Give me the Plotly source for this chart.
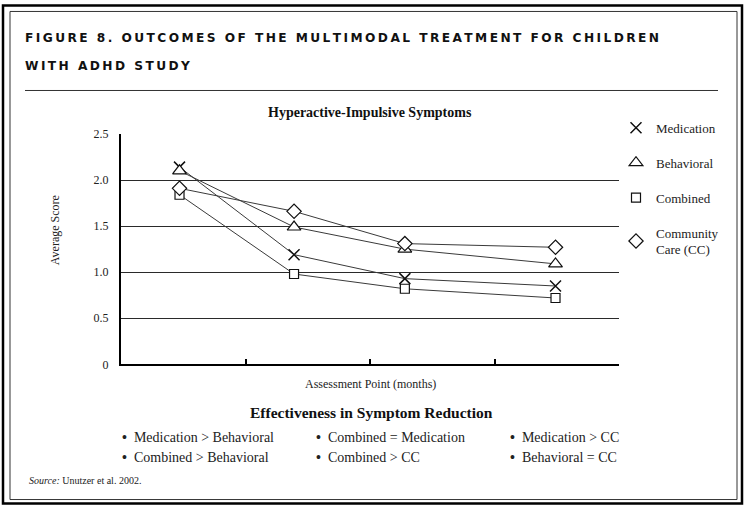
import plotly.graph_objects as go

# ---- data ----
assessment_x = [0.47, 1.39, 2.28, 3.49]   # positions of assessment points along the x axis (0-4)
medication = [2.14, 1.19, 0.93, 0.85]
behavioral = [2.10, 1.49, 1.25, 1.09]
combined = [1.84, 0.98, 0.82, 0.72]
community_care = [1.91, 1.66, 1.31, 1.27]
series_names = ["Medication", "Behavioral", "Combined", "Community<br>Care (CC)"]
y_tick_vals = [0, 0.5, 1.0, 1.5, 2.0, 2.5]
y_tick_text = ["0", "0.5", "1.0", "1.5", "2.0", "2.5"]
x_tick_vals = [1, 2, 3]
title_lines = ["FIGURE 8. OUTCOMES OF THE MULTIMODAL TREATMENT FOR CHILDREN", "WITH ADHD STUDY"]
chart_title = "Hyperactive-Impulsive Symptoms"
x_title = "Assessment Point (months)"
y_title = "Average Score"
effect_title = "Effectiveness in Symptom Reduction"
effect_rows = [
    ["Medication > Behavioral", "Combined = Medication", "Medication > CC"],
    ["Combined > Behavioral", "Combined > CC", "Behavioral = CC"],
]
source_text = "<i>Source:</i> Unutzer et al. 2002."

W, H = 750, 512
SERIF = "Liberation Serif"
VK = 1.022  # vertical spread correction

def px(x):
    return x / W

def py(y):
    yy = H / 2 + (y - H / 2) * VK
    return 1 - yy / H

def spaced(s):
    thin = "\u2009"
    return (thin + "\u00a0" + thin).join(thin.join(list(w)) for w in s.split(" "))

fig = go.Figure()

series = [medication, behavioral, combined, community_care]
symbols = ["x-thin", "triangle-up", "square", "diamond"]
sizes = [11, 12, 9, 11]
for name, vals, sym, sz in zip(series_names, series, symbols, sizes):
    mk = dict(symbol=sym, size=sz, color="white",
              line=dict(color="#111111", width=1.2 if sym != "x-thin" else 1.5))
    fig.add_trace(go.Scatter(
        x=assessment_x, y=vals, mode="lines+markers", showlegend=False,
        line=dict(color="#3a3a3a", width=1), marker=mk,
    ))
    fig.add_trace(go.Scatter(
        x=[None], y=[None], mode="markers", name=name, legendgroup=name, marker=mk,
    ))

fig.update_layout(
    width=W, height=H,
    margin=dict(l=0, r=0, t=0, b=0),
    paper_bgcolor="white", plot_bgcolor="white",
    xaxis=dict(domain=[px(121), px(619)], range=[0, 4], showgrid=False, zeroline=False,
               showline=True, linecolor="black", linewidth=2,
               tickvals=x_tick_vals, ticktext=["", "", ""], ticks="inside",
               ticklen=5, tickwidth=2, tickcolor="black"),
    yaxis=dict(domain=[py(365), py(133)], range=[0, 2.502], showgrid=True,
               gridcolor="#2a2a2a", gridwidth=1, zeroline=False,
               showline=True, linecolor="black", linewidth=2,
               tickvals=y_tick_vals, ticktext=y_tick_text, ticks="",
               ticklabelstandoff=8,
               tickfont=dict(family=SERIF, size=12, color="#222")),
    legend=dict(x=px(616), y=py(112), xanchor="left", yanchor="top",
                font=dict(family=SERIF, size=13, color="#222"),
                traceorder="grouped", tracegroupgap=15, itemwidth=30,
                bgcolor="rgba(0,0,0,0)"),
    showlegend=True,
)

shapes = [
    dict(type="rect", xref="paper", yref="paper", x0=px(3), x1=px(742), y0=py(505), y1=py(4),
         line=dict(color="black", width=2.5)),
    dict(type="rect", xref="paper", yref="paper", x0=px(10), x1=px(737), y0=py(501), y1=py(10),
         line=dict(color="#333", width=1)),
    dict(type="line", xref="paper", yref="paper", x0=px(25), x1=px(718), y0=py(89.5), y1=py(89.5),
         line=dict(color="#333", width=1)),
]
fig.update_layout(shapes=shapes)

ann = []
for i, line in enumerate(title_lines):
    ann.append(dict(text="<b>" + spaced(line) + "</b>", x=px(23), y=py(37 + 28 * i),
                    xanchor="left", yanchor="middle",
                    font=dict(family="DejaVu Sans", size=12.2, color="#111")))
ann.append(dict(text="<b>" + chart_title + "</b>", x=px(370), y=py(112), xanchor="center", yanchor="middle",
                font=dict(family=SERIF, size=14, color="#111")))
ann.append(dict(text=y_title, x=px(55), y=py(230), xanchor="center", yanchor="middle", textangle=-90,
                font=dict(family=SERIF, size=12, color="#222")))
ann.append(dict(text=x_title, x=px(370), y=py(385), xanchor="center", yanchor="middle",
                font=dict(family=SERIF, size=12, color="#222")))
ann.append(dict(text="<b>" + effect_title + "</b>", x=px(371), y=py(413), xanchor="center", yanchor="middle",
                font=dict(family=SERIF, size=15.5, color="#111")))
col_x = [120, 314, 508]
for r, row in enumerate(effect_rows):
    for c, item in enumerate(row):
        ann.append(dict(text="<b>\u2022</b>  " + item, x=px(col_x[c]), y=py(439 + 20 * r),
                        xanchor="left", yanchor="middle",
                        font=dict(family=SERIF, size=14, color="#222")))
ann.append(dict(text=source_text, x=px(27), y=py(482), xanchor="left", yanchor="middle",
                font=dict(family=SERIF, size=10, color="#222")))
for a in ann:
    a.update(xref="paper", yref="paper", showarrow=False)
fig.update_layout(annotations=ann)

fig.write_html("out.html", config={"displayModeBar": False},
               post_script="document.body.style.margin='0';")
